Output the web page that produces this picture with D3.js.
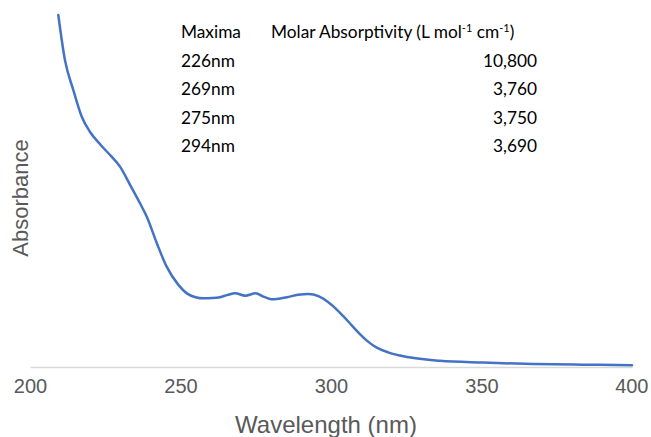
<!DOCTYPE html>
<html>
<head>
<meta charset="utf-8">
<script src="https://cdn.jsdelivr.net/npm/d3@7"></script>
<style>
  body { margin: 0; background: #fff; }
</style>
</head>
<body>
<svg></svg>
<script>
var screen = {width: 651, height: 437};

// spectrum
var wavelength = [209.4, 211.6, 214.4, 217.2, 219.9, 223.5, 227.1, 229.9, 233.2, 236.5, 238.8, 242.1, 245.4,
  249.3, 252.1, 255, 257.6, 260.5, 263.1, 265.5, 268.2, 271.5, 275, 277.5, 280.3, 285.3, 289, 292.5,
  296, 299, 301.5, 304, 306.8, 309.6, 312, 315.2, 319, 322.9, 336.2, 350.6, 367.2, 383.8, 400];
var absorbance = [1.2, 1.047, 0.944, 0.853, 0.802, 0.757, 0.717, 0.683, 0.622, 0.559, 0.512, 0.423, 0.342,
  0.280, 0.251, 0.238, 0.234, 0.235, 0.238, 0.245, 0.251, 0.243, 0.251, 0.240, 0.231, 0.238, 0.246, 0.249,
  0.241, 0.222, 0.200, 0.174, 0.143, 0.112, 0.089, 0.066, 0.050, 0.039, 0.021, 0.015, 0.010, 0.008, 0.006];

var xTicks = [200, 250, 300, 350, 400];

// table of maxima
var tableHeader = ["Maxima", "Molar Absorptivity (L mol", "-1", " cm", "-1", ")"];
var maxima = ["226nm", "269nm", "275nm", "294nm"];
var absorptivity = ["10,800", "3,760", "3,750", "3,690"];

var setup = function()
{
    var svg = d3.select("svg")
    .attr("width", screen.width)
    .attr("height", screen.height);

    var xScale = d3.scaleLinear().domain([200, 400]).range([30, 632]);
    var yScale = d3.scaleLinear().domain([0, 1.2]).range([367, 15]);

    // axis line, no ticks
    var xAxis = d3.axisBottom(xScale).tickValues(xTicks).tickSize(0).tickPadding(12);
    var ax = svg.append("g")
    .attr("transform", "translate(0,367)")
    .call(xAxis);
    ax.select(".domain").attr("stroke", "#d9d9d9").attr("stroke-width", 1.5);
    ax.selectAll("text")
    .attr("font-family", "Liberation Sans, Arial, sans-serif")
    .attr("font-size", 20)
    .attr("fill", "#595959");
    ax.selectAll(".tick").filter(function(d){ return d == 400; })
    .select("text").attr("text-anchor", "end").attr("dx", 16);

    svg.append("text")
    .attr("x", 326).attr("y", 433)
    .attr("text-anchor", "middle")
    .attr("font-family", "Liberation Sans, Arial, sans-serif")
    .attr("font-size", 24)
    .attr("fill", "#595959")
    .text("Wavelength (nm)");

    svg.append("text")
    .attr("transform", "translate(28,198) rotate(-90)")
    .attr("text-anchor", "middle")
    .attr("font-family", "Liberation Sans, Arial, sans-serif")
    .attr("font-size", 22)
    .attr("fill", "#595959")
    .text("Absorbance");

    var points = wavelength.map(function(w, i){ return [w, absorbance[i]]; });
    var line = d3.line()
    .x(function(d){ return xScale(d[0]); })
    .y(function(d){ return yScale(d[1]); })
    .curve(d3.curveMonotoneX);

    svg.append("path")
    .datum(points)
    .attr("d", line)
    .attr("fill", "none")
    .attr("stroke", "#4472c4")
    .attr("stroke-width", 2.5)
    .attr("stroke-linecap", "round");

    drawTable(svg);
}

var drawTable = function(svg)
{
    var font = "Lato, Open Sans, sans-serif";
    var g = svg.append("g")
    .attr("font-family", font)
    .attr("font-size", 17.3)
    .attr("fill", "#000");

    g.append("text").attr("x", 181).attr("y", 38).text(tableHeader[0]);
    var h = g.append("text").attr("x", 271).attr("y", 38);
    h.append("tspan").text(tableHeader[1]);
    h.append("tspan").attr("font-size", 11).attr("dy", -6).text(tableHeader[2]);
    h.append("tspan").attr("dy", 6).text(tableHeader[3]);
    h.append("tspan").attr("font-size", 11).attr("dy", -6).text(tableHeader[4]);
    h.append("tspan").attr("dy", 6).text(tableHeader[5]);

    g.selectAll(".maxima")
    .data(maxima)
    .enter()
    .append("text")
    .attr("x", 181)
    .attr("y", function(d, i){ return 66.5 + i * 28.6; })
    .text(function(d){ return d; });

    g.selectAll(".absorb")
    .data(absorptivity)
    .enter()
    .append("text")
    .attr("x", 537)
    .attr("y", function(d, i){ return 66.5 + i * 28.6; })
    .attr("text-anchor", "end")
    .text(function(d){ return d; });
}

setup();
</script>
</body>
</html>
